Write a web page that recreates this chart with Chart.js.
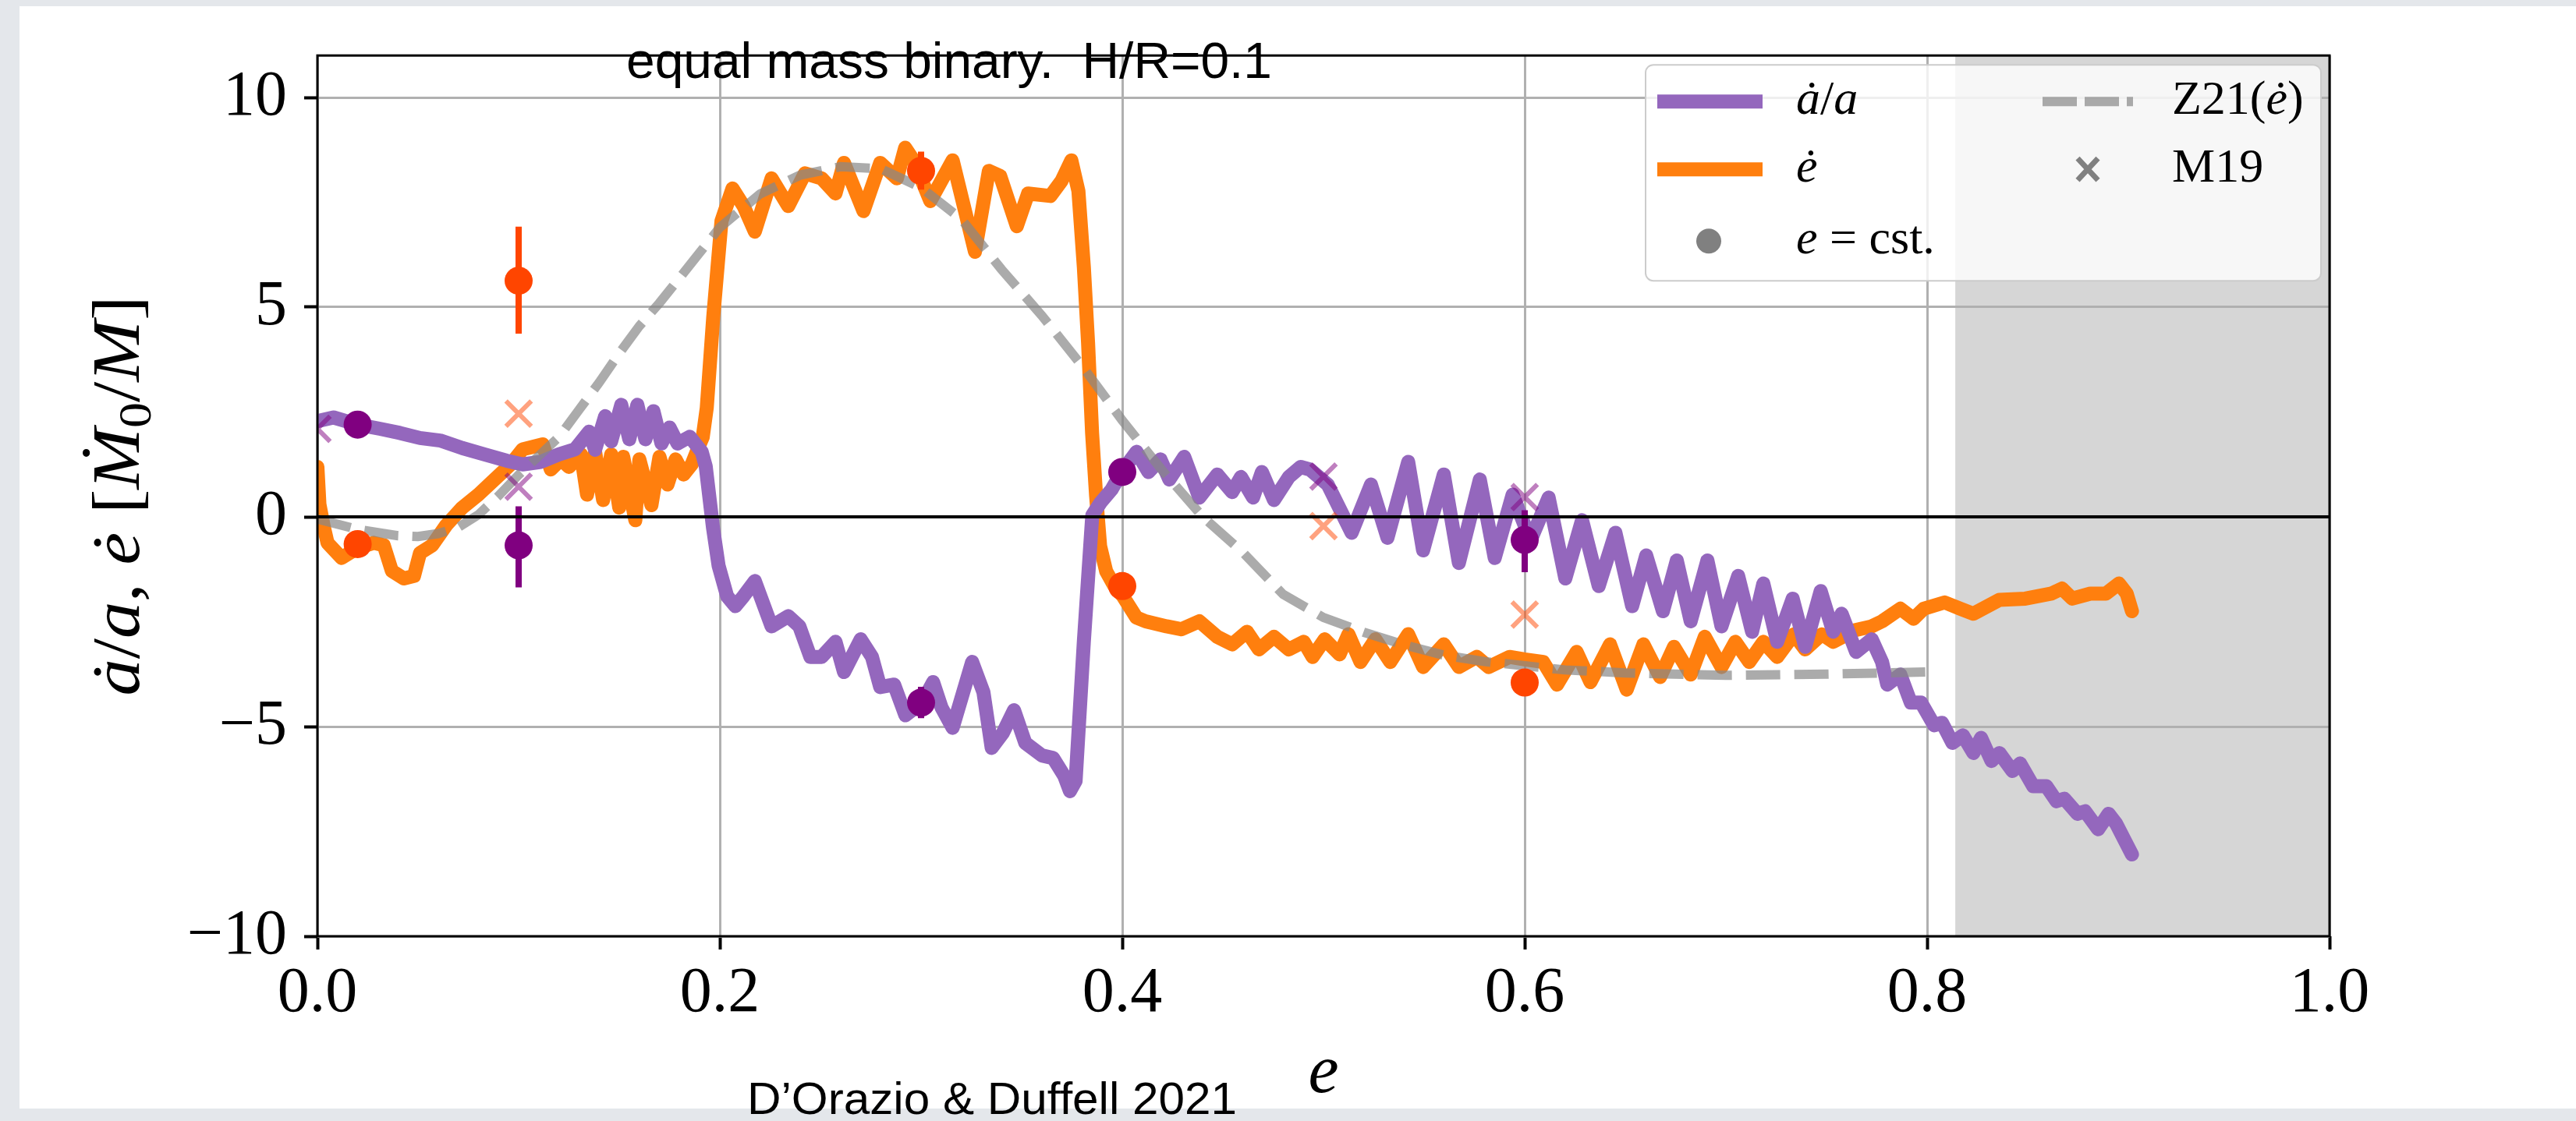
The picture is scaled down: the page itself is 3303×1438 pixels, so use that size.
<!DOCTYPE html>
<html lang="en">
<head>
<meta charset="UTF-8">
<title>equal mass binary</title>
<style>
    html, body { margin: 0; padding: 0; background: #e4e7eb; overflow: hidden; }
    .sheet { position: absolute; left: 25px; top: 8px; width: 3278px; height: 1414px; background: #fff; }
    #chart { position: absolute; left: 0; top: 0; }
</style>
</head>
<body>
<div class="sheet"></div>
<canvas id="chart" width="3303" height="1438"></canvas>

<script src="https://cdn.jsdelivr.net/npm/chart.js"></script>
<script>
    // a-dot / a (purple curve)
    const adotE = [0.000, 0.008, 0.020, 0.031, 0.041, 0.051, 0.061, 0.072, 0.083, 0.094, 0.102, 0.111, 0.120, 0.128,
        0.135, 0.138, 0.143, 0.146, 0.151, 0.155, 0.159, 0.163, 0.167, 0.171, 0.175, 0.179, 0.185, 0.191, 0.193,
        0.1966, 0.1994, 0.2036, 0.2077, 0.2118, 0.2174, 0.2257, 0.2340, 0.2395, 0.2450, 0.2506, 0.2575, 0.2617,
        0.2700, 0.2756, 0.2797, 0.2866, 0.2922, 0.3005, 0.3060, 0.3102, 0.3157, 0.3254, 0.3310, 0.3351, 0.3407,
        0.3462, 0.3518, 0.3601, 0.3656, 0.3712, 0.3740, 0.3768, 0.3809, 0.3851, 0.3892, 0.3947, 0.3997, 0.4071,
        0.4130, 0.4190, 0.4234, 0.4308, 0.4383, 0.4472, 0.4546, 0.4590, 0.4650, 0.4694, 0.4754, 0.4828, 0.4887,
        0.4932, 0.5021, 0.5140, 0.5236, 0.5318, 0.5421, 0.5495, 0.5598, 0.5673, 0.5777, 0.5851, 0.5940, 0.6029,
        0.6119, 0.6202, 0.6285, 0.6368, 0.6451, 0.6534, 0.6604, 0.6687, 0.6756, 0.6825, 0.6908, 0.6978, 0.7061,
        0.7130, 0.7186, 0.7255, 0.7332, 0.7394, 0.7471, 0.7533, 0.7575, 0.7647, 0.7725, 0.7776, 0.7802, 0.7867,
        0.7919, 0.7970, 0.8035, 0.8074, 0.8126, 0.8178, 0.8230, 0.8268, 0.8320, 0.8359, 0.8424, 0.8462, 0.8527,
        0.8592, 0.8643, 0.8682, 0.8747, 0.8785, 0.8850, 0.8902, 0.8940, 0.9018];
    const adotV = [2.28, 2.37, 2.20, 2.10, 2.00, 1.88, 1.82, 1.64, 1.49, 1.34, 1.25, 1.31, 1.49, 1.61,
        2.03, 1.60, 2.40, 1.80, 2.67, 1.85, 2.67, 1.85, 2.52, 1.75, 2.13, 1.75, 1.91, 1.55, 1.20,
        -0.26, -1.17, -1.89, -2.13, -1.89, -1.53, -2.61, -2.37, -2.61, -3.34, -3.34, -2.98, -3.70,
        -2.92, -3.34, -4.06, -4.00, -4.73, -4.43, -3.94, -4.55, -5.03, -3.46, -4.18, -5.51, -5.15,
        -4.61, -5.39, -5.69, -5.75, -6.18, -6.54, -6.30, -2.98, 0.04, 0.34, 0.65, 1.07, 1.55,
        1.07, 1.37, 0.89, 1.43, 0.46, 1.01, 0.59, 0.95, 0.46, 1.07, 0.40, 0.95, 1.19,
        1.13, 0.77, -0.38, 0.77, -0.50, 1.31, -0.80, 1.01, -1.10, 0.89, -0.98, 0.53, -0.56,
        0.46, -1.47, -0.08, -1.65, -0.38, -2.13, -0.92, -2.25, -1.04, -2.49, -1.04, -2.61, -1.41,
        -2.74, -1.59, -2.98, -1.95, -3.10, -1.77, -2.74, -2.31, -3.22, -2.92, -3.46, -4.00, -3.76,
        -4.43, -4.43, -4.97, -4.91, -5.39, -5.21, -5.63, -5.27, -5.82, -5.63, -6.06, -5.88, -6.42,
        -6.42, -6.78, -6.72, -7.08, -7.02, -7.45, -7.08, -7.32, -8.05];

    // e-dot (orange curve)
    const edotE = [0.000, 0.001, 0.003, 0.005, 0.012, 0.020, 0.028, 0.033, 0.037, 0.043, 0.048, 0.051, 0.057,
        0.064, 0.072, 0.080, 0.088, 0.096, 0.102, 0.107, 0.112, 0.116, 0.121, 0.125, 0.131, 0.134, 0.138, 0.142,
        0.146, 0.150, 0.152, 0.158, 0.160, 0.166, 0.170, 0.174, 0.178, 0.182, 0.186, 0.190, 0.1915, 0.1935,
        0.1967, 0.2008, 0.2063, 0.2118, 0.2174, 0.2257, 0.2340, 0.2423, 0.2506, 0.2575, 0.2617, 0.2714, 0.2797,
        0.2880, 0.2921, 0.2963, 0.3046, 0.3157, 0.3268, 0.3337, 0.3393, 0.3476, 0.3532, 0.3643, 0.3698, 0.3747,
        0.3782, 0.3809, 0.3830, 0.3850, 0.3870, 0.3890, 0.3920, 0.3961, 0.4003, 0.4070, 0.4116, 0.4220, 0.4293,
        0.4383, 0.4472, 0.4546, 0.4620, 0.4679, 0.4754, 0.4828, 0.4902, 0.4946, 0.5006, 0.5080, 0.5124, 0.5184,
        0.5258, 0.5332, 0.5421, 0.5495, 0.5598, 0.5673, 0.5762, 0.5821, 0.5925, 0.6000, 0.6092, 0.6161, 0.6258,
        0.6327, 0.6424, 0.6507, 0.6590, 0.6673, 0.6742, 0.6825, 0.6895, 0.6978, 0.7047, 0.7116, 0.7186, 0.7255,
        0.7338, 0.7394, 0.7477, 0.7533, 0.7644, 0.7725, 0.7776, 0.7867, 0.7932, 0.7983, 0.8087, 0.8165, 0.8230,
        0.8359, 0.8488, 0.8618, 0.8670, 0.8721, 0.8811, 0.8889, 0.8953, 0.8992, 0.9018];
    const edotV = [1.19, 0.30, -0.20, -0.62, -0.98, -0.74, -0.62, -0.68, -1.29, -1.47, -1.41, -0.86, -0.68,
        -0.20, 0.22, 0.53, 0.89, 1.25, 1.61, 1.67, 1.73, 1.13, 1.37, 1.19, 1.49, 0.53, 1.55, 0.40,
        1.49, 0.22, 1.43, -0.08, 1.37, 0.28, 1.43, 0.77, 1.37, 1.01, 1.25, 1.73, 1.90, 2.60,
        4.75, 7.05, 7.83, 7.41, 6.80, 8.07, 7.41, 8.19, 8.07, 7.71, 8.44, 7.29, 8.44,
        8.07, 8.80, 8.50, 7.53, 8.50, 6.32, 8.25, 8.13, 6.93, 7.71, 7.65, 8.01, 8.50,
        7.77, 5.96, 4.15, 2.00, 0.50, -0.70, -1.30, -1.65, -1.89, -2.40, -2.49, -2.61, -2.68,
        -2.49, -2.86, -3.04, -2.74, -3.16, -2.86, -3.16, -2.98, -3.34, -2.92, -3.28, -2.80, -3.46,
        -2.92, -3.46, -2.80, -3.58, -3.04, -3.58, -3.34, -3.58, -3.34, -3.40, -3.46, -4.00, -3.22,
        -3.94, -3.04, -4.12, -3.04, -3.82, -3.10, -3.76, -2.86, -3.58, -2.98, -3.46, -2.98, -3.34,
        -2.80, -3.16, -2.80, -2.98, -2.70, -2.61, -2.49, -2.19, -2.43, -2.19, -2.04, -2.19, -2.31,
        -1.98, -1.95, -1.83, -1.71, -1.95, -1.83, -1.83, -1.59, -1.83, -2.25];

    // Z21 prediction for e-dot (grey dashed)
    const z21E = [0.00, 0.02, 0.04, 0.05, 0.06, 0.07, 0.08, 0.09, 0.10, 0.11, 0.12, 0.13, 0.14, 0.15, 0.16, 0.17,
        0.18, 0.19, 0.20, 0.22, 0.24, 0.26, 0.28, 0.30, 0.32, 0.34, 0.36, 0.38, 0.40, 0.42, 0.44, 0.46, 0.48,
        0.50, 0.52, 0.54, 0.56, 0.58, 0.60, 0.62, 0.65, 0.70, 0.75, 0.80];
    const z21V = [-0.05, -0.30, -0.45, -0.47, -0.40, -0.25, 0.05, 0.50, 1.00, 1.45, 1.90, 2.55, 3.20, 3.90, 4.55, 5.10,
        5.70, 6.30, 6.90, 7.70, 8.15, 8.35, 8.30, 7.85, 7.10, 5.90, 4.80, 3.60, 2.30, 1.10, 0.00, -0.85, -1.85,
        -2.40, -2.75, -3.05, -3.30, -3.45, -3.55, -3.65, -3.72, -3.78, -3.75, -3.70];

    // e = cst. runs, with error bars
    const cstE = [0.02, 0.1, 0.3, 0.4, 0.6];
    const cstAdot = [2.20, -0.68, -4.43, 1.07, -0.55];
    const cstAdotLo = [2.20, -1.68, -4.80, 1.00, -1.32];
    const cstAdotHi = [2.20, 0.25, -4.05, 1.15, 0.16];
    const cstEdot = [-0.65, 5.63, 8.25, -1.65, -3.95];
    const cstEdotLo = [-0.65, 4.37, 7.80, -1.70, -4.00];
    const cstEdotHi = [-0.65, 6.92, 8.71, -1.60, -3.90];

    // M19 comparison points
    const m19E = [0.0, 0.1, 0.5, 0.6];
    const m19Adot = [2.10, 0.72, 0.96, 0.47];
    const m19Edot = [null, 2.46, -0.22, -2.33];

    const xTicks = [0, 0.2, 0.4, 0.6, 0.8, 1.0];
    const yTicks = [-10, -5, 0, 5, 10];
    const shadeStart = 0.814;

    const serif = '"Liberation Serif", "DejaVu Serif", serif';
    const narrow = '"Liberation Sans Narrow", "Liberation Sans", sans-serif';
    const purple = '#9467bd', orange = '#ff7f0e', dashGrey = 'rgba(136,136,136,0.7)';

    const pts = (xs, ys) => xs.map((x, i) => ({x: x, y: ys[i]}));
    const bars = (xs, lo, hi) => {
        let out = [];
        xs.forEach((x, i) => { out.push({x: x, y: lo[i]}, {x: x, y: hi[i]}, {x: x, y: null}); });
        return out;
    };

    function fitText(ctx, text, x, y, width, font) {
        ctx.save();
        ctx.font = font;
        const w = ctx.measureText(text).width;
        ctx.translate(x, y);
        ctx.scale(width / w, 1);
        ctx.textAlign = 'left';
        ctx.fillText(text, 0, 0);
        ctx.restore();
    }

    // parts: [text, italic, sizeFactor, baselineShift]
    function runFont(p, size) {
        return (p[1] ? 'italic ' : '') + Math.round(size * (p[2] || 1)) + 'px ' + serif;
    }
    function runsWidth(ctx, parts, size) {
        let w = 0;
        parts.forEach(p => { ctx.font = runFont(p, size); w += ctx.measureText(p[0]).width; });
        return w;
    }
    function runs(ctx, parts, x, y, size) {
        parts.forEach(p => {
            ctx.font = runFont(p, size);
            ctx.fillText(p[0], x, y + (p[3] || 0) * size);
            x += ctx.measureText(p[0]).width;
        });
    }

    const yLabel = [['\u0227', 1], ['/', 0], ['a', 1], [', ', 0], ['\u0117', 1], [' [', 0], ['\u1E40', 1],
        ['0', 0, 0.7, 0.18], ['/', 0], ['M', 1], [']', 0]];

    const backdrop = {
        id: 'backdrop',
        beforeDraw(chart) {
            const c = chart.ctx, a = chart.chartArea, xs = chart.scales.x;
            c.save();
            c.fillStyle = '#d6d6d6';
            const x0 = xs.getPixelForValue(shadeStart);
            c.fillRect(x0, a.top, a.right - x0, a.bottom - a.top);
            c.restore();
        }
    };

    const overlay = {
        id: 'overlay',
        afterDatasetsDraw(chart) {
            const c = chart.ctx, a = chart.chartArea, ys = chart.scales.y;
            c.save();
            c.strokeStyle = '#000';
            c.lineWidth = 4;
            const y0 = ys.getPixelForValue(0);
            c.beginPath(); c.moveTo(a.left, y0); c.lineTo(a.right, y0); c.stroke();
            c.lineWidth = 3;
            c.strokeRect(a.left, a.top, a.right - a.left, a.bottom - a.top);
            c.restore();
        },
        afterDraw(chart) {
            const c = chart.ctx, a = chart.chartArea;
            c.save();
            c.fillStyle = '#000';
            c.textBaseline = 'alphabetic';
            fitText(c, 'equal mass binary.  H/R=0.1', 803, 100, 828, '65px ' + narrow);
            fitText(c, 'D\u2019Orazio & Duffell 2021', 958, 1429, 628, '57px ' + narrow);

            c.font = 'italic 88px ' + serif;
            c.textAlign = 'center';
            c.fillText('e', (a.left + a.right) / 2, 1401);

            // rotated y label
            c.save();
            c.translate(178, (a.top + a.bottom) / 2);
            c.rotate(-Math.PI / 2);
            c.textAlign = 'left';
            const lw = runsWidth(c, yLabel, 86);
            c.scale(513 / lw, 1);
            runs(c, yLabel, -lw / 2, 0, 86);
            c.restore();

            // legend box
            const bx = a.right - 877, by = a.top + 12, bw = 866, bh = 277;
            c.beginPath();
            c.roundRect(bx, by, bw, bh, 10);
            c.fillStyle = 'rgba(255,255,255,0.8)';
            c.fill();
            c.strokeStyle = '#cccccc';
            c.lineWidth = 2;
            c.stroke();

            const r1 = by + 47, r2 = by + 134, r3 = by + 226;
            const h1 = bx + 15, h2 = bx + 509, t1 = bx + 193, t2 = bx + 675;
            c.lineCap = 'butt';
            c.lineWidth = 18;
            c.strokeStyle = purple;
            c.beginPath(); c.moveTo(h1, r1); c.lineTo(h1 + 135, r1); c.stroke();
            c.strokeStyle = orange;
            c.beginPath(); c.moveTo(h1, r2); c.lineTo(h1 + 135, r2); c.stroke();
            c.fillStyle = '#808080';
            c.beginPath(); c.arc(h1 + 66, r3, 16, 0, Math.PI * 2); c.fill();
            c.strokeStyle = dashGrey;
            c.lineWidth = 12;
            c.setLineDash([44, 10]);
            c.beginPath(); c.moveTo(h2, r1); c.lineTo(h2 + 116, r1); c.stroke();
            c.setLineDash([]);
            c.strokeStyle = '#808080';
            c.lineWidth = 7;
            const mx = h2 + 58;
            c.beginPath();
            c.moveTo(mx - 13, r2 - 14); c.lineTo(mx + 13, r2 + 14);
            c.moveTo(mx + 13, r2 - 14); c.lineTo(mx - 13, r2 + 14);
            c.stroke();

            c.fillStyle = '#000';
            c.textAlign = 'left';
            c.textBaseline = 'middle';
            runs(c, [['\u0227', 1], ['/', 0], ['a', 1]], t1, r1, 62);
            runs(c, [['\u0117', 1]], t1, r2, 62);
            runs(c, [['e', 1], [' = cst.', 0]], t1, r3, 62);
            runs(c, [['Z21(', 0], ['\u0117', 1], [')', 0]], t2, r1, 62);
            runs(c, [['M19', 0]], t2, r2, 62);
            c.restore();
        }
    };

    const ctx = document.getElementById('chart');
    new Chart(ctx, {
        type: 'line',
        data: {
            datasets: [
                {label: 'M19 a', data: pts(m19E, m19Adot), showLine: false, pointStyle: 'crossRot', pointRadius: 23,
                    pointBorderWidth: 6, borderColor: 'rgba(128,0,128,0.5)', order: 1},
                {label: 'M19 e', data: pts(m19E, m19Edot), showLine: false, pointStyle: 'crossRot', pointRadius: 23,
                    pointBorderWidth: 6, borderColor: 'rgba(255,69,0,0.5)', order: 1},
                {label: 'cst a', data: pts(cstE, cstAdot), showLine: false, pointRadius: 18, pointBorderWidth: 0,
                    backgroundColor: '#800080', order: 2},
                {label: 'cst e', data: pts(cstE, cstEdot), showLine: false, pointRadius: 18, pointBorderWidth: 0,
                    backgroundColor: '#ff4500', order: 2},
                {label: 'err a', data: bars(cstE, cstAdotLo, cstAdotHi), borderColor: '#800080', borderWidth: 8,
                    pointRadius: 0, spanGaps: false, order: 3},
                {label: 'err e', data: bars(cstE, cstEdotLo, cstEdotHi), borderColor: '#ff4500', borderWidth: 8,
                    pointRadius: 0, spanGaps: false, order: 3},
                {label: 'Z21', data: pts(z21E, z21V), borderColor: dashGrey, borderWidth: 12,
                    borderDash: [44, 18], pointRadius: 0, order: 4},
                {label: 'adot', data: pts(adotE, adotV), borderColor: purple, borderWidth: 18, pointRadius: 0,
                    borderJoinStyle: 'round', borderCapStyle: 'round', order: 5},
                {label: 'edot', data: pts(edotE, edotV), borderColor: orange, borderWidth: 18, pointRadius: 0,
                    borderJoinStyle: 'round', borderCapStyle: 'round', order: 6}
            ]
        },
        options: {
            responsive: false,
            animation: false,
            devicePixelRatio: 1,
            layout: {padding: {left: 0, top: 41, right: 316, bottom: 0}},
            plugins: {legend: {display: false}, tooltip: {enabled: false}},
            elements: {line: {tension: 0}},
            scales: {
                x: {
                    type: 'linear', min: 0, max: 1,
                    afterBuildTicks: s => { s.ticks = xTicks.map(v => ({value: v})); },
                    afterFit: s => { s.height = 237; },
                    ticks: {callback: v => v.toFixed(1), color: '#000', padding: 8, maxRotation: 0,
                        font: {family: serif, size: 82}},
                    grid: {color: '#b0b0b0', lineWidth: 3, tickLength: 17, tickColor: '#000', tickWidth: 4},
                    border: {display: false}
                },
                y: {
                    type: 'linear', min: -10, max: 11,
                    afterBuildTicks: s => { s.ticks = yTicks.map(v => ({value: v})); },
                    afterFit: s => { s.width = 407; },
                    ticks: {callback: v => String(v).replace('-', '\u2212'), color: '#000', padding: 22,
                        font: {family: serif, size: 82}},
                    grid: {color: '#b0b0b0', lineWidth: 3, tickLength: 17, tickColor: '#000', tickWidth: 4},
                    border: {display: false}
                }
            }
        },
        plugins: [backdrop, overlay]
    });
</script>
</body>
</html>
